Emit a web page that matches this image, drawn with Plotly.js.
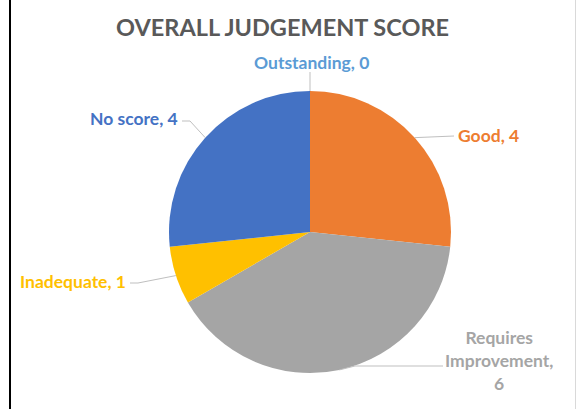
<!DOCTYPE html>
<html>
<head>
<meta charset="utf-8">
<script src="https://cdn.plot.ly/plotly-3.0.1.min.js"></script>
<style>html,body{margin:0;padding:0;background:#fff;} #chart{width:576px;height:409px;}</style>
</head>
<body>
<div id="chart"></div>
<script>
const categories = ['Outstanding', 'Good', 'Requires Improvement', 'Inadequate', 'No score'];
const values = [0, 4, 6, 1, 4];
const labelTexts = ['Outstanding, 0', 'Good, 4', 'Requires<br>Improvement,<br>6', 'Inadequate, 1', 'No score, 4'];
const chartTitle = 'OVERALL JUDGEMENT SCORE';

const colors = ['#5B9BD5', '#ED7D31', '#A5A5A5', '#FFC000', '#4472C4'];
const W = 576, H = 409;
const CX = 310, CY = 232, R = 141;
const FONT = 'Lato, "Open Sans", sans-serif';

// label placement (pixels): text anchor point, and elbow of leader line
const labelPos = [
  {x: 311, y: 63, xanchor: 'center', elbow: null, end: [310, 72]},
  {x: 456, y: 135, xanchor: 'left', elbow: null, end: [454, 136]},
  {x: 499, y: 360, xanchor: 'center', elbow: [355, 366], end: [443, 366]},
  {x: 128, y: 281, xanchor: 'right', elbow: [138, 283], end: [130, 283]},
  {x: 180, y: 119, xanchor: 'right', elbow: [190, 121], end: [182, 121]}
];

const px = x => x / W;
const py = y => 1 - y / H;

const total = values.reduce((a, b) => a + b, 0);
let cum = 0;
const tips = values.map(v => {
  const mid = (cum + v / 2) / total * 2 * Math.PI;
  cum += v;
  return [CX + R * Math.sin(mid), CY - R * Math.cos(mid)];
});

const annotations = [{
  text: chartTitle, x: px(282), y: py(27), xref: 'paper', yref: 'paper',
  xanchor: 'center', yanchor: 'middle', showarrow: false,
  font: {family: FONT, size: 23.5, color: '#595959', weight: 'bold'}
}];
const shapes = [];
categories.forEach((c, i) => {
  const p = labelPos[i];
  annotations.push({
    text: labelTexts[i], x: px(p.x), y: py(p.y), xref: 'paper', yref: 'paper',
    xanchor: p.xanchor, yanchor: 'middle', showarrow: false, align: 'center',
    font: {family: FONT, size: 17.5, color: colors[i], weight: 'bold'}
  });
  const pts = [tips[i]];
  if (p.elbow) pts.push(p.elbow);
  pts.push(p.end);
  const path = pts.map((q, k) => (k ? 'L' : 'M') + px(q[0]) + ',' + py(q[1])).join(' ');
  shapes.push({type: 'path', xref: 'paper', yref: 'paper', path: path,
    line: {color: '#BFBFBF', width: 1}});
});
// frame lines
shapes.push({type: 'line', xref: 'paper', yref: 'paper', x0: px(10), x1: px(10), y0: 0, y1: 1,
  line: {color: '#000000', width: 2}});
shapes.push({type: 'line', xref: 'paper', yref: 'paper', x0: px(575.5), x1: px(575.5), y0: 0, y1: 1,
  line: {color: '#D9D9D9', width: 1}});

const trace = {
  type: 'pie',
  labels: categories,
  values: values,
  sort: false,
  direction: 'clockwise',
  rotation: 0,
  textinfo: 'none',
  hoverinfo: 'label+value',
  marker: {colors: colors, line: {color: '#FFFFFF', width: 0}},
  domain: {x: [px(CX - R), px(CX + R)], y: [py(CY + R), py(CY - R)]},
  showlegend: false
};

Plotly.newPlot('chart', [trace], {
  width: W, height: H,
  margin: {l: 0, r: 0, t: 0, b: 0},
  paper_bgcolor: '#FFFFFF',
  showlegend: false,
  annotations: annotations,
  shapes: shapes
}, {displayModeBar: false, staticPlot: true});
</script>
</body>
</html>
